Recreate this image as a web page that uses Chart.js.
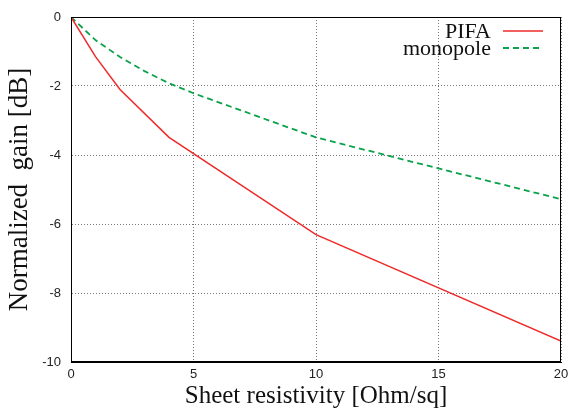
<!DOCTYPE html>
<html>
<head>
<meta charset="utf-8">
<script src="https://cdn.jsdelivr.net/npm/chart.js@4.4.1/dist/chart.umd.min.js"></script>
<style>
html,body{margin:0;padding:0;background:#fff;}
#wrap{width:571px;height:411px;position:relative;}
</style>
</head>
<body>
<div id="wrap"><canvas id="c" width="571" height="411"></canvas></div>
<script>
// Data
const pifaX = [0, 1, 2, 4, 10, 20];
const pifaY = [0, -1.15, -2.1, -3.49, -6.31, -9.39];
const monoX = [0, 1, 2, 3, 4, 5, 10, 15, 20];
const monoY = [0, -0.67, -1.16, -1.57, -1.92, -2.21, -3.49, -4.39, -5.28];
const seriesNames = ['PIFA', 'monopole'];
const xTicks = [0, 5, 10, 15, 20];
const yTicks = [-10, -8, -6, -4, -2, 0];
const xTitle = 'Sheet resistivity [Ohm/sq]';
const yTitle = 'Normalized  gain [dB]';

const toPts = (xs, ys) => xs.map((x, i) => ({x: x, y: ys[i]}));

const serif = "'Liberation Serif', 'Times New Roman', serif";
const sans = "'Liberation Sans', Arial, sans-serif";

// Black frame around the plot area
const frame = {
  id: 'frame',
  afterDatasetsDraw(chart) {
    const a = chart.chartArea, ctx = chart.ctx;
    ctx.save();
    ctx.strokeStyle = '#000';
    ctx.lineWidth = 1;
    ctx.setLineDash([]);
    ctx.strokeRect(Math.round(a.left) + 0.5, Math.round(a.top) + 0.5,
                   Math.round(a.right - a.left) - 1, Math.round(a.bottom - a.top) - 1);
    ctx.restore();
  }
};

// gnuplot-style key in the top right corner: text right-aligned, sample line to its right
const key = {
  id: 'key',
  afterDatasetsDraw(chart) {
    const a = chart.chartArea, ctx = chart.ctx;
    ctx.save();
    ctx.font = '22px ' + serif;
    ctx.textAlign = 'right';
    ctx.textBaseline = 'alphabetic';
    chart.data.datasets.forEach((d, i) => {
      const rowY = a.top + 14 + i * 17;
      ctx.fillStyle = '#111';
      ctx.fillText(d.label, a.right - 70, rowY + 7);
      ctx.strokeStyle = d.borderColor;
      ctx.lineWidth = d.borderWidth;
      ctx.setLineDash(d.borderDash || []);
      ctx.beginPath();
      ctx.moveTo(a.right - 58, rowY);
      ctx.lineTo(a.right - 18, rowY);
      ctx.stroke();
    });
    ctx.restore();
  }
};

new Chart(document.getElementById('c'), {
  type: 'line',
  data: {
    datasets: [
      {label: seriesNames[0], data: toPts(pifaX, pifaY), borderColor: '#ee2a2a', backgroundColor: '#ee2a2a',
       borderWidth: 1.5, pointRadius: 0, tension: 0, fill: false},
      {label: seriesNames[1], data: toPts(monoX, monoY), borderColor: '#0aa24a', backgroundColor: '#0aa24a',
       borderWidth: 1.8, borderDash: [6, 4], pointRadius: 0, tension: 0, fill: false}
    ]
  },
  options: {
    responsive: false,
    animation: false,
    devicePixelRatio: 1,
    layout: {padding: {top: 17, right: 10, left: 0, bottom: 0}},
    plugins: {
      tooltip: {enabled: false},
      legend: {display: false}
    },
    scales: {
      x: {
        type: 'linear', min: xTicks[0], max: xTicks[xTicks.length - 1],
        afterBuildTicks(s) { s.ticks = xTicks.map(v => ({value: v})); },
        afterFit(s) { s.paddingLeft = 0; s.paddingRight = 0; s.height = 49; },
        ticks: {font: {family: sans, size: 13}, color: '#222', padding: 5, maxRotation: 0},
        grid: {color: '#777', lineWidth: 1, drawTicks: false},
        border: {display: true, color: '#000', dash: [1, 2]},
        title: {display: true, text: xTitle, font: {family: serif, size: 25}, color: '#111', padding: {top: 0, bottom: 0}}
      },
      y: {
        type: 'linear', min: yTicks[0], max: yTicks[yTicks.length - 1],
        afterBuildTicks(s) { s.ticks = yTicks.map(v => ({value: v})); },
        afterFit(s) { s.paddingTop = 0; s.paddingBottom = 0; s.width = 71; },
        ticks: {font: {family: sans, size: 13}, color: '#222', padding: 10},
        grid: {color: '#777', lineWidth: 1, drawTicks: false},
        border: {display: true, color: '#000', dash: [1, 2]},
        title: {display: true, text: yTitle, font: {family: serif, size: 27}, color: '#111', padding: {top: 4, bottom: 0}}
      }
    }
  },
  plugins: [frame, key]
});
</script>
</body>
</html>
